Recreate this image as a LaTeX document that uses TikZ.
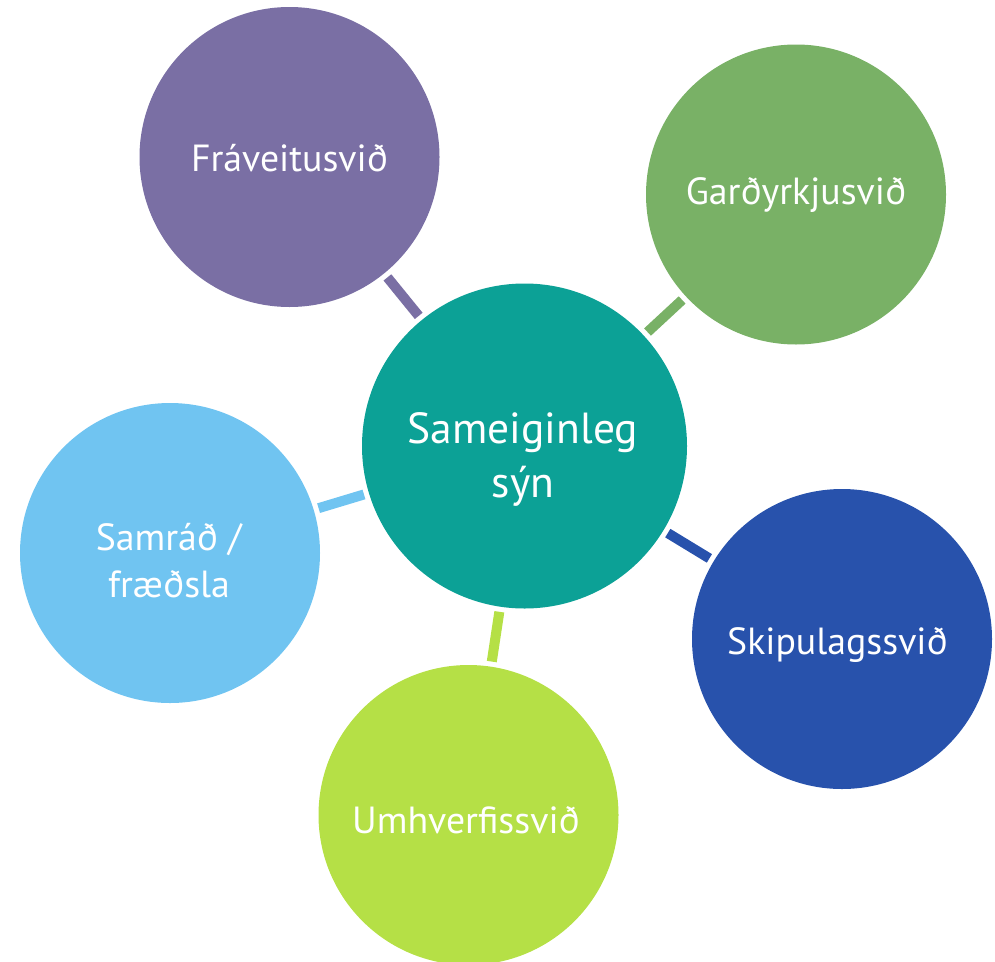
\documentclass[tikz,border=0pt]{standalone}
\usepackage{fontspec}
\setmainfont{PT Sans}
\definecolor{cpurple}{HTML}{7A6FA4}
\definecolor{cgreen}{HTML}{79B166}
\definecolor{cteal}{HTML}{0CA196}
\definecolor{clblue}{HTML}{70C4F1}
\definecolor{clime}{HTML}{B5E046}
\definecolor{cdblue}{HTML}{2852AC}
\begin{document}
\begin{tikzpicture}[x=1pt,y=-1pt,
  bub/.style={circle, inner sep=0pt, minimum size=300pt, draw=none},
  link/.style={line width=10pt, shorten <=5pt, shorten >=5pt},
  lbl/.style={text=white, anchor=base, inner sep=0pt, font=\fontsize{37.8}{47}\selectfont},
  clbl/.style={text=white, anchor=base, inner sep=0pt, font=\fontsize{43.5}{52}\selectfont}]
\useasboundingbox (0,0) rectangle (995,961);
\node[bub, fill=cpurple] (fra) at (289.5,157) {};
\node[bub, fill=cgreen] (gar) at (796,194.5) {};
\node[bub, fill=cteal, minimum size=325pt] (cen) at (524.5,446) {};
\node[bub, fill=clblue] (sam) at (170,553) {};
\node[bub, fill=clime] (umh) at (468.5,815) {};
\node[bub, fill=cdblue] (ski) at (842,639) {};
\draw[link, cpurple] (fra) -- (cen);
\draw[link, cgreen] (gar) -- (cen);
\draw[link, clblue] (sam) -- (cen);
\draw[link, clime] (umh) -- (cen);
\draw[link, cdblue] (ski) -- (cen);
\node[lbl] (tfra) at (289.5,171.7) {Fráveitusvið};
\node[lbl] (tgar) at (796,204) {Garðyrkjusvið};
\node[clbl] (tcen1) at (523,443) {Sameiginleg};
\node[clbl] (tcen2) at (523,497) {sýn};
\node[lbl] (tsam1) at (168.7,550) {Samráð /};
\node[lbl] (tsam2) at (169,597) {fræðsla};
\node[lbl] (tumh) at (466,833) {Umhverfissvið};
\node[lbl] (tski) at (837.5,654) {Skipulagssvið};
\end{tikzpicture}
\end{document}
